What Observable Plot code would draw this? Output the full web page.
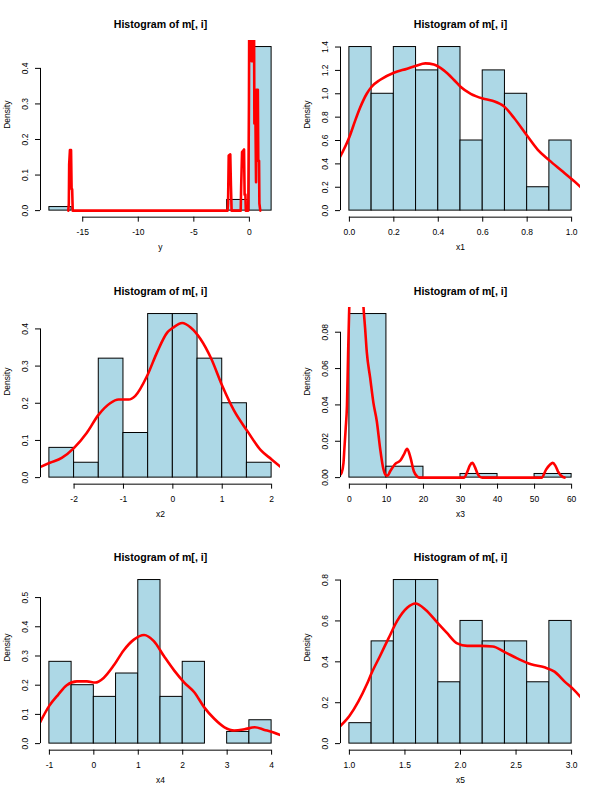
<!DOCTYPE html>
<html>
<head>
<meta charset="utf-8">
<script src="https://cdn.jsdelivr.net/npm/d3@7"></script>
<script src="https://cdn.jsdelivr.net/npm/@observablehq/plot@0.6"></script>
<style>
  html, body { margin: 0; padding: 0; background: #fff; }
  #grid { position: relative; width: 600px; height: 800px; background: #fff; }
  #grid svg { position: absolute; }
</style>
</head>
<body>
<div id="grid"></div>
<script>
// ---------- Panel 1: y ----------
const yBreaks = [-18, -16, -14, -12, -10, -8, -6, -4, -2, 0, 2];
const yDens = [0.01, 0, 0, 0, 0, 0, 0, 0, 0.03, 0.46];
const yCurveX = [-16.30, -16.25, -16.22, -16.15, -16.05, -16.0, -15.95, -15.9,
  -1.97, -1.92, -1.86, -1.72, -1.66, -1.6,
  -0.78, -0.74, -0.66, -0.48, -0.43, -0.36, -0.32,
  -0.1, -0.04, 0.0, 0.1, 0.16, 0.2, 0.25, 0.3, 0.4, 0.45, 0.55, 0.6, 0.63, 0.76, 0.8, 0.87, 0.9, 0.98];
const yCurveY = [0.0, 0.02, 0.13, 0.17, 0.17, 0.06, 0.06, 0.0,
  0.0, 0.02, 0.155, 0.158, 0.07, 0.0,
  0.0, 0.068, 0.165, 0.172, 0.045, 0.045, 0.0,
  0.0, 0.3, 0.7, 0.7, 0.5, 0.42, 0.42, 0.7, 0.7, 0.245, 0.245, 0.08, 0.34, 0.34, 0.14, 0.14, 0.02, 0.0];
const yXTicks = [-15, -10, -5, 0];
const yXLabels = ["-15", "-10", "-5", "0"];
const yYTicks = [0, 0.1, 0.2, 0.3, 0.4];
const yYLabels = ["0.0", "0.1", "0.2", "0.3", "0.4"];

// ---------- Panel 2: x1 ----------
const x1Breaks = [0, 0.1, 0.2, 0.3, 0.4, 0.5, 0.6, 0.7, 0.8, 0.9, 1.0];
const x1Dens = [1.4, 1.0, 1.4, 1.2, 1.4, 0.6, 1.2, 1.0, 0.2, 0.6];
const x1CurveX = [-0.042, 0.0, 0.026, 0.048, 0.078, 0.10, 0.139, 0.2, 0.26, 0.30, 0.342, 0.38, 0.425, 0.47, 0.50, 0.546, 0.6, 0.644, 0.697, 0.742, 0.80, 0.848, 0.90, 0.953, 1.0, 1.042];
const x1CurveY = [0.46, 0.63, 0.77, 0.88, 1.0, 1.06, 1.12, 1.18, 1.215, 1.24, 1.26, 1.25, 1.20, 1.12, 1.06, 1.0, 0.96, 0.94, 0.89, 0.79, 0.64, 0.52, 0.43, 0.345, 0.27, 0.20];
const x1XTicks = [0, 0.2, 0.4, 0.6, 0.8, 1.0];
const x1XLabels = ["0.0", "0.2", "0.4", "0.6", "0.8", "1.0"];
const x1YTicks = [0, 0.2, 0.4, 0.6, 0.8, 1.0, 1.2, 1.4];
const x1YLabels = ["0.0", "0.2", "0.4", "0.6", "0.8", "1.0", "1.2", "1.4"];

// ---------- Panel 3: x2 ----------
const x2Breaks = [-2.5, -2, -1.5, -1, -0.5, 0, 0.5, 1, 1.5, 2];
const x2Dens = [0.08, 0.04, 0.32, 0.12, 0.44, 0.44, 0.32, 0.20, 0.04];
const x2CurveX = [-2.695, -2.49, -2.25, -2.0, -1.745, -1.51, -1.27, -1.10, -0.896, -0.76, -0.52, -0.32, -0.115, 0.0, 0.19, 0.36, 0.56, 0.767, 1.0, 1.24, 1.51, 1.785, 2.0, 2.18];
const x2CurveY = [0.028, 0.04, 0.053, 0.08, 0.12, 0.168, 0.20, 0.21, 0.21, 0.22, 0.274, 0.337, 0.39, 0.403, 0.416, 0.404, 0.373, 0.323, 0.247, 0.18, 0.125, 0.073, 0.049, 0.029];
const x2XTicks = [-2, -1, 0, 1, 2];
const x2XLabels = ["-2", "-1", "0", "1", "2"];
const x2YTicks = [0, 0.1, 0.2, 0.3, 0.4];
const x2YLabels = ["0.0", "0.1", "0.2", "0.3", "0.4"];

// ---------- Panel 4: x3 ----------
const x3Breaks = [0, 10, 20, 30, 40, 50, 60];
const x3Dens = [0.09, 0.006, 0, 0.002, 0, 0.002];
const x3CurveX = [-2.5, -2.1, -1.6, -1.35, -1.0, -0.65, -0.35, -0.1, 0.2, 1.0, 2.0, 3.0, 3.8, 4.25, 4.7, 5.6, 6.5, 7.4, 8.3, 9.05, 9.7, 10.3, 11.0, 12.4, 13.75, 14.7, 15.6, 16.5, 17.4, 18.3, 18.8, 30.9, 31.9, 32.5, 33.2, 33.9, 34.6, 35.2, 35.9, 51.9, 53.1, 54.2, 54.9, 55.6, 56.3, 57.6, 58.1];
const x3CurveY = [0.0015, 0.0026, 0.008, 0.016, 0.027, 0.040, 0.068, 0.089, 0.11, 0.14, 0.15, 0.13, 0.094, 0.082, 0.069, 0.055, 0.041, 0.031, 0.016, 0.006, 0.0017, 0.001, 0.0035, 0.0076, 0.0094, 0.0127, 0.0159, 0.011, 0.0035, 0.0006, 0, 0, 0.0035, 0.0066, 0.0081, 0.0058, 0.0022, 0.0005, 0, 0, 0.0044, 0.0072, 0.0081, 0.0066, 0.0035, 0.0004, 0];
const x3XTicks = [0, 10, 20, 30, 40, 50, 60];
const x3XLabels = ["0", "10", "20", "30", "40", "50", "60"];
const x3YTicks = [0, 0.02, 0.04, 0.06, 0.08];
const x3YLabels = ["0.00", "0.02", "0.04", "0.06", "0.08"];

// ---------- Panel 5: x4 ----------
const x4Breaks = [-1, -0.5, 0, 0.5, 1, 1.5, 2, 2.5, 3, 3.5, 4];
const x4Dens = [0.28, 0.20, 0.16, 0.24, 0.56, 0.16, 0.28, 0, 0.04, 0.08];
const x4CurveX = [-1.21, -1.0, -0.80, -0.61, -0.38, -0.155, 0.03, 0.22, 0.45, 0.67, 0.90, 1.13, 1.35, 1.58, 1.81, 2.03, 2.26, 2.48, 2.71, 2.94, 3.16, 3.39, 3.62, 3.84, 4.03, 4.2];
const x4CurveY = [0.073, 0.13, 0.168, 0.20, 0.213, 0.213, 0.209, 0.225, 0.268, 0.319, 0.356, 0.372, 0.351, 0.299, 0.25, 0.21, 0.176, 0.125, 0.085, 0.056, 0.045, 0.049, 0.056, 0.047, 0.039, 0.029];
const x4XTicks = [-1, 0, 1, 2, 3, 4];
const x4XLabels = ["-1", "0", "1", "2", "3", "4"];
const x4YTicks = [0, 0.1, 0.2, 0.3, 0.4, 0.5];
const x4YLabels = ["0.0", "0.1", "0.2", "0.3", "0.4", "0.5"];

// ---------- Panel 6: x5 ----------
const x5Breaks = [1.0, 1.2, 1.4, 1.6, 1.8, 2.0, 2.2, 2.4, 2.6, 2.8, 3.0];
const x5Dens = [0.1, 0.5, 0.8, 0.8, 0.3, 0.6, 0.5, 0.5, 0.3, 0.6];
const x5CurveX = [0.916, 1.0, 1.08, 1.157, 1.2, 1.277, 1.353, 1.43, 1.52, 1.594, 1.685, 1.79, 1.88, 1.97, 2.06, 2.18, 2.29, 2.39, 2.51, 2.635, 2.756, 2.846, 2.94, 3.01, 3.08];
const x5CurveY = [0.085, 0.135, 0.205, 0.29, 0.345, 0.43, 0.516, 0.60, 0.664, 0.685, 0.655, 0.593, 0.54, 0.49, 0.478, 0.478, 0.475, 0.45, 0.417, 0.388, 0.373, 0.352, 0.302, 0.269, 0.228];
const x5XTicks = [1.0, 1.5, 2.0, 2.5, 3.0];
const x5XLabels = ["1.0", "1.5", "2.0", "2.5", "3.0"];
const x5YTicks = [0, 0.2, 0.4, 0.6, 0.8];
const x5YLabels = ["0.0", "0.2", "0.4", "0.6", "0.8"];

const mainTitle = "Histogram of m[, i]";
const yAxisTitle = "Density";

const panels = [
  {xlab: "y",  breaks: yBreaks,  dens: yDens,  cx: yCurveX,  cy: yCurveY,  xt: yXTicks,  xl: yXLabels,  yt: yYTicks,  yl: yYLabels, smooth: false},
  {xlab: "x1", breaks: x1Breaks, dens: x1Dens, cx: x1CurveX, cy: x1CurveY, xt: x1XTicks, xl: x1XLabels, yt: x1YTicks, yl: x1YLabels, smooth: true},
  {xlab: "x2", breaks: x2Breaks, dens: x2Dens, cx: x2CurveX, cy: x2CurveY, xt: x2XTicks, xl: x2XLabels, yt: x2YTicks, yl: x2YLabels, smooth: true},
  {xlab: "x3", breaks: x3Breaks, dens: x3Dens, cx: x3CurveX, cy: x3CurveY, xt: x3XTicks, xl: x3XLabels, yt: x3YTicks, yl: x3YLabels, smooth: true},
  {xlab: "x4", breaks: x4Breaks, dens: x4Dens, cx: x4CurveX, cy: x4CurveY, xt: x4XTicks, xl: x4XLabels, yt: x4YTicks, yl: x4YLabels, smooth: true},
  {xlab: "x5", breaks: x5Breaks, dens: x5Dens, cx: x5CurveX, cy: x5CurveY, xt: x5XTicks, xl: x5XLabels, yt: x5YTicks, yl: x5YLabels, smooth: true}
];

const FONT = "'Liberation Sans', Arial, Helvetica, sans-serif";
const W = 300, H = 800 / 3;
const ext = ([a, b]) => [a - (b - a) * 0.04, b + (b - a) * 0.04];
const grid = document.getElementById("grid");

panels.forEach((p, k) => {
  const bars = p.dens.map((d, i) => ({x1: p.breaks[i], x2: p.breaks[i + 1], y1: 0, y2: d}));
  const curve = p.cx.map((x, i) => ({x, y: p.cy[i]}));
  const xd = ext([p.breaks[0], p.breaks[p.breaks.length - 1]]);
  const yd = ext([0, d3.max(p.dens)]);
  const xfmt = new Map(p.xt.map((t, i) => [t, p.xl[i]]));
  const yfmt = new Map(p.yt.map((t, i) => [t, p.yl[i]]));
  const svg = Plot.plot({
    width: W, height: H,
    marginLeft: 40, marginRight: 20, marginTop: 40, marginBottom: 50,
    x: {domain: xd},
    y: {domain: yd},
    style: {fontFamily: FONT, fontSize: "8.5px", background: "#fff", color: "#000", overflow: "visible"},
    marks: [
      Plot.rect(bars, {x1: "x1", x2: "x2", y1: "y1", y2: "y2", fill: "#ADD8E6", stroke: "#000", strokeWidth: 1, inset: 0}),
      Plot.line(curve, {x: "x", y: "y", stroke: "#ff0000", strokeWidth: 2.6, clip: true, curve: p.smooth ? "monotone-x" : "linear"}),
      Plot.ruleY([{y: yd[0], x1: p.xt[0], x2: p.xt[p.xt.length - 1]}], {y: "y", x1: "x1", x2: "x2", stroke: "#000"}),
      Plot.ruleX([{x: xd[0], y1: p.yt[0], y2: p.yt[p.yt.length - 1]}], {x: "x", y1: "y1", y2: "y2", stroke: "#000"}),
      Plot.axisX({ticks: p.xt, tickFormat: d => xfmt.get(d), tickSize: 5, tickPadding: 10, lineAnchor: "middle", label: null, fontSize: 8.5}),
      Plot.axisY({ticks: p.yt, tickFormat: d => yfmt.get(d), tickSize: 5, tickPadding: 10, tickRotate: -90, textAnchor: "middle", lineAnchor: "middle", label: null, fontSize: 8.5}),
      Plot.text([mainTitle], {frameAnchor: "top", dy: -20, fontWeight: "bold", fontSize: 10.6, fill: "#000"}),
      Plot.text([p.xlab], {frameAnchor: "bottom", dy: 33, fontSize: 8.5, fill: "#000"}),
      Plot.text([yAxisTitle], {frameAnchor: "left", dx: -33, rotate: -90, fontSize: 8.5, fill: "#000"})
    ]
  });
  svg.style.left = ((k % 2) * W) + "px";
  svg.style.top = (Math.floor(k / 2) * H) + "px";
  grid.appendChild(svg);
});
</script>
</body>
</html>
